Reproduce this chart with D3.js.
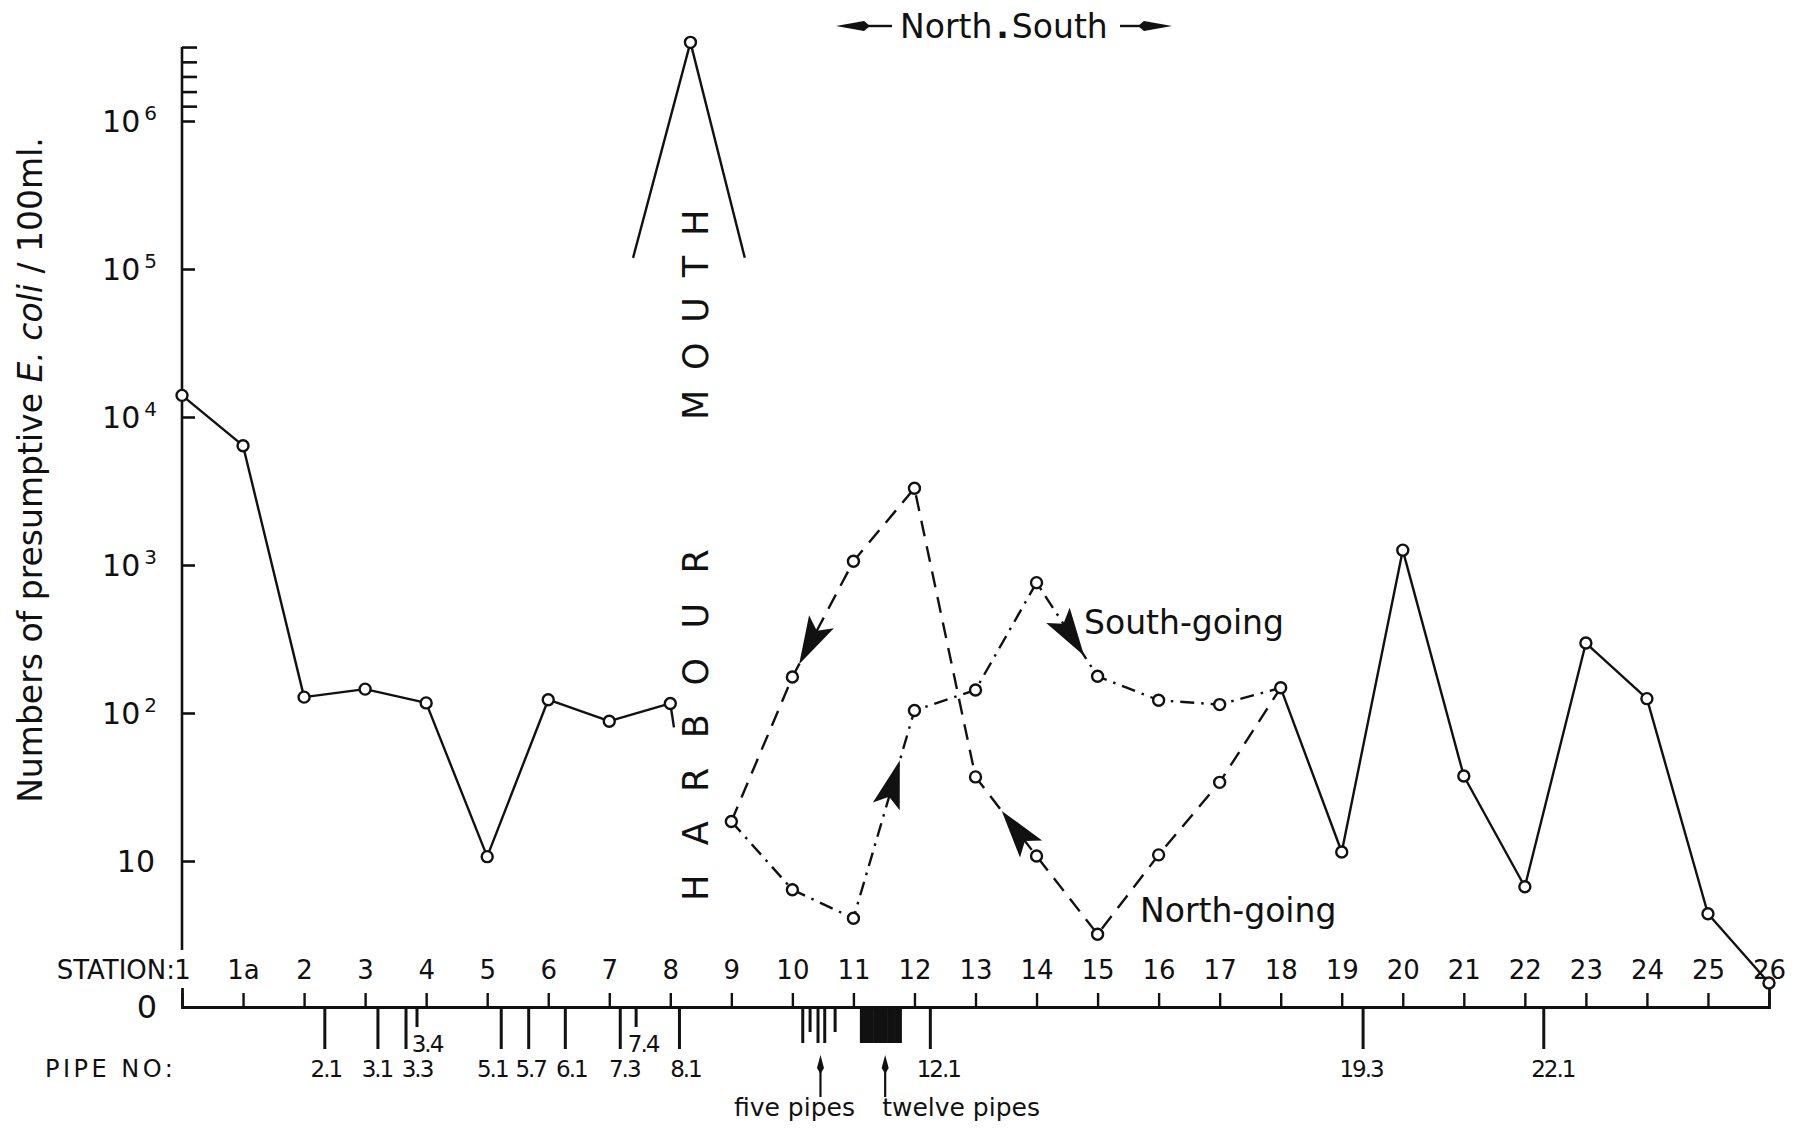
<!DOCTYPE html>
<html>
<head>
<meta charset="utf-8">
<script src="https://cdn.jsdelivr.net/npm/d3@7"></script>
<style>
  html,body{margin:0;padding:0;background:#fff;}
  svg{display:block;}
</style>
</head>
<body>
<svg id="chart" width="1798" height="1129"></svg>
<script>
// ---------------- DATA ----------------
const stations = ["1","1a","2","3","4","5","6","7","8","9","10","11","12","13","14","15","16","17","18","19","20","21","22","23","24","25","26"];

// solid line, north of the harbour mouth
const westStations = ["1","1a","2","3","4","5","6","7","8"];
const westValues   = [14000, 6400, 128, 145, 117, 10.7, 123, 88, 116];
// short stub leaving station 8 toward the mouth (position in station units)
const westStubPos    = [8, 8.06];
const westStubValues = [116, 80];

// solid line, south part
const eastStations = ["18","19","20","21","22","23","24","25","26"];
const eastValues   = [148, 11.5, 1260, 37.5, 6.7, 297, 125, 4.4, 1.5];

// north-going tide (dashed)
const northStations = ["9","10","11","12","13","14","15","16","17","18"];
const northValues   = [18.5, 175, 1060, 3300, 37, 10.8, 3.2, 11, 34, 148];

// south-going tide (dash-dot)
const southStations = ["9","10","11","12","13","14","15","16","17","18"];
const southValues   = [18.5, 6.4, 4.1, 104, 143, 760, 177, 122, 114, 148];

// harbour mouth peak (positions in station units)
const mouthPos    = [7.39, 8.33, 9.22];
const mouthValues = [1.19e5, 3.4e6, 1.19e5];

// flow arrows: which series, along which segment, fraction where the tip sits
const flowArrows = [
  {series:"north", from:"11", to:"10", t:0.89},
  {series:"north", from:"14", to:"13", t:0.57},
  {series:"south", from:"11", to:"12", t:0.76},
  {series:"south", from:"14", to:"15", t:0.78}
];

// y axis
const yTickValues   = [10, 100, 1e3, 1e4, 1e5, 1e6];
const yTickExponent = ["", "2", "3", "4", "5", "6"];
const yMinorTicks   = [1.26e6, 1.58e6, 2.0e6, 2.51e6, 3.16e6];
const yAxisTop = 3.16e6, yAxisBottom = 2.5;

// pipes (positions in station units)
const pipeLabels = ["2.1","3.1","3.3","3.4","5.1","5.7","6.1","7.3","7.4","8.1","12.1","19.3","22.1"];
const pipePos    = [2.34, 3.21, 3.67, 3.85, 5.23, 5.68, 6.28, 7.18, 7.44, 8.15, 12.26, 19.35, 22.31];
const shortPipes = ["3.4","7.4"];
const fivePipesPos   = [10.17, 10.29, 10.42, 10.53, 10.70];
const fivePipesShort = [false, true, false, false, true];
const twelvePipesPos = [11.14, 11.19, 11.25, 11.30, 11.36, 11.42, 11.47, 11.53, 11.59, 11.64, 11.70, 11.76];
const groupLabels = ["five pipes", "twelve pipes"];
const groupArrowPos = [10.46, 11.52];

// ---------------- CHART ----------------
const ink = "#111";
const FONT = "'DejaVu Sans', 'Liberation Sans', sans-serif";
const svg = d3.select("#chart");
svg.append("rect").attr("width",1798).attr("height",1129).attr("fill","#fff");

const x = d3.scaleLinear().domain([0, 26]).range([182, 1769]);
const y = d3.scaleLog().domain([10, 1e6]).range([861, 121]);
const sx = s => x(stations.indexOf(s));
const baseY = 1007;
const axisX = x(0);

// ---- y axis ----
svg.append("line")
  .attr("x1", axisX).attr("x2", axisX)
  .attr("y1", y(yAxisTop)).attr("y2", y(yAxisBottom))
  .attr("stroke", ink).attr("stroke-width", 2.6);

const yAx = svg.append("g").attr("transform", `translate(${axisX},0)`)
  .call(d3.axisRight(y).tickValues(yTickValues).tickSize(13).tickFormat(""));
const yMin = svg.append("g").attr("transform", `translate(${axisX},0)`)
  .call(d3.axisRight(y).tickValues(yMinorTicks).tickSize(15).tickFormat(""));
[yAx, yMin].forEach(g => {
  g.select(".domain").remove();
  g.selectAll(".tick line").attr("stroke", ink).attr("stroke-width", 2.6);
});

const yl = svg.append("g").attr("font-family", FONT).attr("fill", ink);
yTickValues.forEach((v, i) => {
  const t = yl.append("text")
    .attr("x", yTickExponent[i] ? 157 : 155)
    .attr("y", y(v) + 11)
    .attr("text-anchor", "end")
    .attr("font-size", 30);
  t.append("tspan").text("10");
  if (yTickExponent[i]) {
    t.append("tspan").attr("dx", 4).attr("dy", -12).attr("font-size", 20).text(yTickExponent[i]);
  }
});

// y title
const yt = svg.append("text")
  .attr("transform", `translate(42,470) rotate(-90)`)
  .attr("text-anchor", "middle")
  .attr("font-family", FONT).attr("font-size", 33).attr("fill", ink);
yt.append("tspan").text("Numbers of presumptive ");
yt.append("tspan").attr("font-style", "italic").text("E. coli");
yt.append("tspan").text(" / 100ml.");

// ---- station axis (top of baseline) ----
const xAx = svg.append("g").attr("transform", `translate(0,${baseY})`)
  .call(d3.axisTop(x).tickValues(d3.range(stations.length))
    .tickSize(14).tickSizeOuter(19).tickPadding(14)
    .tickFormat(i => stations[i]));
xAx.select(".domain").attr("stroke", ink).attr("stroke-width", 2.8);
xAx.selectAll(".tick line").attr("stroke", ink).attr("stroke-width", 2.4);
xAx.selectAll(".tick text").attr("font-family", FONT).attr("font-size", 26).attr("fill", ink);

svg.append("text").attr("x", 175).attr("y", baseY - 28)
  .attr("text-anchor", "end").attr("font-family", FONT).attr("font-size", 26).attr("fill", ink)
  .text("STATION:");
svg.append("text").attr("x", 147).attr("y", baseY + 11)
  .attr("text-anchor", "middle").attr("font-family", FONT).attr("font-size", 32).attr("fill", ink)
  .text("0");

// ---- pipes ----
// small horizontal nudges of the pipe labels, as lettered in the original
const labelNudge = {"2.1":1, "3.1":-1, "3.3":11, "3.4":10, "5.1":-9, "5.7":2, "6.1":6,
                    "7.3":4, "7.4":7, "8.1":6, "12.1":8, "19.3":-2, "22.1":9};
const pg = svg.append("g").attr("stroke", ink);
pipeLabels.forEach((lab, i) => {
  const short = shortPipes.includes(lab);
  pg.append("line").attr("x1", x(pipePos[i])).attr("x2", x(pipePos[i]))
    .attr("y1", baseY).attr("y2", short ? 1027 : 1049).attr("stroke-width", 3);
  svg.append("text")
    .attr("x", x(pipePos[i]) + labelNudge[lab])
    .attr("y", short ? 1052 : 1077)
    .attr("text-anchor", "middle")
    .attr("font-family", FONT).attr("font-size", 23).attr("letter-spacing", -2)
    .attr("fill", ink)
    .text(lab);
});
fivePipesPos.forEach((p, i) => {
  pg.append("line").attr("x1", x(p)).attr("x2", x(p))
    .attr("y1", baseY).attr("y2", fivePipesShort[i] ? 1032 : 1043).attr("stroke-width", 3);
});
twelvePipesPos.forEach(p => {
  pg.append("line").attr("x1", x(p)).attr("x2", x(p))
    .attr("y1", baseY).attr("y2", 1043).attr("stroke-width", 4.2);
});
svg.append("text").attr("x", 45).attr("y", 1077)
  .attr("font-family", FONT).attr("font-size", 24)
  .attr("letter-spacing", 3.5).attr("fill", ink).text("PIPE NO:");

// group arrows & labels
groupArrowPos.forEach((p, i) => {
  const ax = x(p);
  svg.append("line").attr("x1", ax).attr("x2", ax).attr("y1", 1068).attr("y2", 1097)
    .attr("stroke", ink).attr("stroke-width", 2.2);
  svg.append("path")
    .attr("d", `M${ax},1055 L${ax + 3.5},1068 L${ax},1074 L${ax - 3.5},1068 Z`)
    .attr("fill", ink);
  svg.append("text")
    .attr("x", i === 0 ? ax - 26 : ax - 3)
    .attr("y", 1116)
    .attr("text-anchor", i === 0 ? "middle" : "start")
    .attr("font-family", FONT).attr("font-size", 25).attr("fill", ink)
    .text(groupLabels[i]);
});

// ---- data lines ----
const line = d3.line().x(d => d[0]).y(d => d[1]);
const pts = (st, vals) => st.map((s, i) => [sx(s), y(vals[i])]);

const west = pts(westStations, westValues);
const westStub = westStubPos.map((p, i) => [x(p), y(westStubValues[i])]);
const east = pts(eastStations, eastValues);
const north = pts(northStations, northValues);
const south = pts(southStations, southValues);
const mouth = mouthPos.map((p, i) => [x(p), y(mouthValues[i])]);

const lg = svg.append("g").attr("fill", "none").attr("stroke", ink).attr("stroke-width", 2.4)
  .attr("stroke-linejoin", "round");
lg.append("path").attr("d", line(west));
lg.append("path").attr("d", line(westStub));
lg.append("path").attr("d", line(east));
lg.append("path").attr("d", line(mouth));
lg.append("path").attr("d", line(north)).attr("stroke-dasharray", "16,10");
lg.append("path").attr("d", line(south)).attr("stroke-dasharray", "14,7,2.5,7");

// flow arrowheads
function arrowPath(p0, p1, t, len, hw, notch) {
  const dx = p1[0] - p0[0], dy = p1[1] - p0[1], L = Math.hypot(dx, dy);
  const ux = dx / L, uy = dy / L, nx = -uy, ny = ux;
  const tip = [p0[0] + dx * t, p0[1] + dy * t];
  const b = [tip[0] - ux * len, tip[1] - uy * len];
  return `M${tip[0]},${tip[1]} L${b[0] + nx * hw},${b[1] + ny * hw} L${b[0] + ux * notch},${b[1] + uy * notch} L${b[0] - nx * hw},${b[1] - ny * hw} Z`;
}
flowArrows.forEach(a => {
  const st = a.series === "north" ? northStations : southStations;
  const vals = a.series === "north" ? northValues : southValues;
  const i0 = st.indexOf(a.from), i1 = st.indexOf(a.to);
  const p0 = [sx(a.from), y(vals[i0])], p1 = [sx(a.to), y(vals[i1])];
  svg.append("path").attr("d", arrowPath(p0, p1, a.t, 48, 14, 10)).attr("fill", ink);
});

// markers
const allPts = [...west, ...east.slice(1), ...north, ...south.slice(1, -1), mouth[1]];
svg.append("g").selectAll("circle").data(allPts).join("circle")
  .attr("cx", d => d[0]).attr("cy", d => d[1]).attr("r", 5.5)
  .attr("fill", "#fff").attr("stroke", ink).attr("stroke-width", 2.4);

// ---- annotations ----
const harbourX = x(mouthPos[1]) + 18;
svg.append("text")
  .attr("transform", `translate(${harbourX},901) rotate(-90)`)
  .attr("font-family", FONT).attr("font-size", 35).attr("letter-spacing", 29.4).attr("fill", ink)
  .text("HARBOUR");
svg.append("text")
  .attr("transform", `translate(${harbourX},420) rotate(-90)`)
  .attr("font-family", FONT).attr("font-size", 35).attr("letter-spacing", 19.8).attr("fill", ink)
  .text("MOUTH");

svg.append("text").attr("x", 1084).attr("y", 634)
  .attr("font-family", FONT).attr("font-size", 33).attr("fill", ink).text("South-going");
svg.append("text").attr("x", 1140).attr("y", 922)
  .attr("font-family", FONT).attr("font-size", 33).attr("fill", ink).text("North-going");

// North . South header
const ns = svg.append("text").attr("x", 900).attr("y", 38)
  .attr("font-family", FONT).attr("font-size", 33).attr("fill", ink);
ns.append("tspan").text("North");
ns.append("tspan").attr("dx", 4).attr("font-weight", "bold").text(".");
ns.append("tspan").attr("dx", 3).text("South");
svg.append("line").attr("x1", 862).attr("x2", 892).attr("y1", 26).attr("y2", 26)
  .attr("stroke", ink).attr("stroke-width", 2.4);
svg.append("path").attr("d", "M836,26 L864,21 L870,26 L864,31 Z").attr("fill", ink);
svg.append("line").attr("x1", 1120).attr("x2", 1150).attr("y1", 26).attr("y2", 26)
  .attr("stroke", ink).attr("stroke-width", 2.4);
svg.append("path").attr("d", "M1172,26 L1144,21 L1138,26 L1144,31 Z").attr("fill", ink);
</script>
</body>
</html>
